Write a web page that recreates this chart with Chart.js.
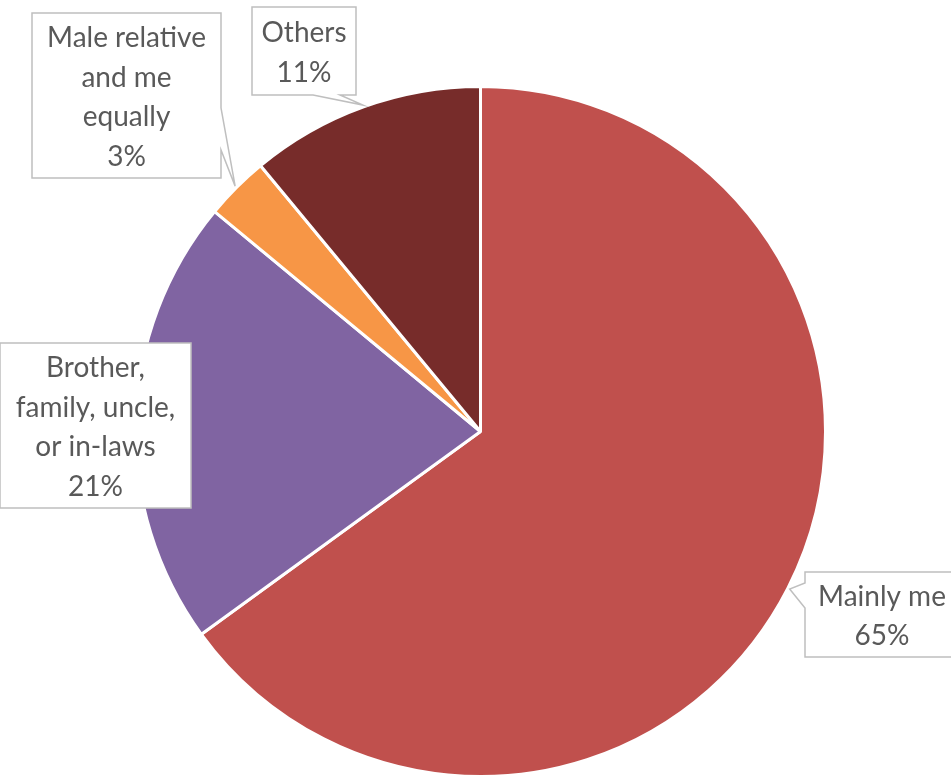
<!DOCTYPE html>
<html>
<head>
<meta charset="utf-8">
<script src="https://cdn.jsdelivr.net/npm/chart.js@4/dist/chart.umd.min.js"></script>
<style>
  html, body { margin: 0; padding: 0; background: #fff; }
  canvas { display: block; }
</style>
</head>
<body>
<canvas id="pie" width="951" height="778"></canvas>
<script>
// data
const categories = ['Mainly me', 'Brother, family, uncle, or in-laws', 'Male relative and me equally', 'Others'];
const shares = [65, 21, 3, 11];
const labelLines = [
    ['Mainly me'],
    ['Brother,', 'family, uncle,', 'or in-laws'],
    ['Male relative', 'and me', 'equally'],
    ['Others']
];
const sliceColors = ['#C0504D', '#8064A2', '#F79646', '#772C2A'];

// callout boxes (layout only). side = where the pointer leaves the box, a/b = base of the pointer along that side
const callouts = [
    { x: 805, y: 572, w: 154, h: 85, side: 'left', a: 11, b: 36 },
    { x: 0, y: 343, w: 191, h: 165, side: null },
    { x: 32, y: 13, w: 189, h: 165, side: 'right', a: 95, b: 137 },
    { x: 252, y: 7, w: 104, h: 88, side: 'bottom', a: 61, b: 88 }
];

const calloutPlugin = {
    id: 'callouts',
    afterDatasetsDraw(chart) {
        const ctx = chart.ctx;
        const arcs = chart.getDatasetMeta(0).data;
        ctx.save();
        arcs.forEach((arc, i) => {
            const c = callouts[i];
            const p = arc.getProps(['x', 'y', 'startAngle', 'endAngle', 'outerRadius'], true);
            const mid = (p.startAngle + p.endAngle) / 2;
            const tip = {
                x: p.x + Math.cos(mid) * (p.outerRadius + 2),
                y: p.y + Math.sin(mid) * (p.outerRadius + 2)
            };
            const L = c.x, T = c.y, R = c.x + c.w, B = c.y + c.h;

            ctx.beginPath();
            ctx.moveTo(L, T);
            ctx.lineTo(R, T);
            if (c.side === 'right') {
                ctx.lineTo(R, T + c.a);
                ctx.lineTo(tip.x, tip.y);
                ctx.lineTo(R, T + c.b);
            }
            ctx.lineTo(R, B);
            if (c.side === 'bottom') {
                ctx.lineTo(L + c.b, B);
                ctx.lineTo(tip.x, tip.y);
                ctx.lineTo(L + c.a, B);
            }
            ctx.lineTo(L, B);
            if (c.side === 'left') {
                ctx.lineTo(L, T + c.b);
                ctx.lineTo(tip.x, tip.y);
                ctx.lineTo(L, T + c.a);
            }
            ctx.closePath();
            ctx.fillStyle = '#ffffff';
            ctx.fill();
            ctx.lineWidth = 1.5;
            ctx.strokeStyle = '#BFBFBF';
            ctx.stroke();

            const lines = labelLines[i].concat([shares[i] + '%']);
            const lh = 39.5;
            const cx = L + c.w / 2;
            const cy = T + c.h / 2 + 2;
            ctx.fillStyle = '#595959';
            ctx.font = '28px Lato';
            ctx.textAlign = 'center';
            ctx.textBaseline = 'middle';
            lines.forEach((t, k) => {
                ctx.fillText(t, cx, cy + (k - (lines.length - 1) / 2) * lh);
            });
        });
        ctx.restore();
    }
};

new Chart(document.getElementById('pie'), {
    type: 'pie',
    data: {
        labels: categories,
        datasets: [{
            data: shares,
            backgroundColor: sliceColors,
            borderColor: '#ffffff',
            borderWidth: 3
        }]
    },
    options: {
        responsive: false,
        animation: false,
        layout: {
            padding: { left: 134, right: 124, top: 85, bottom: 0 }
        },
        plugins: {
            legend: { display: false },
            tooltip: { enabled: false }
        }
    },
    plugins: [calloutPlugin]
});
</script>
</body>
</html>
